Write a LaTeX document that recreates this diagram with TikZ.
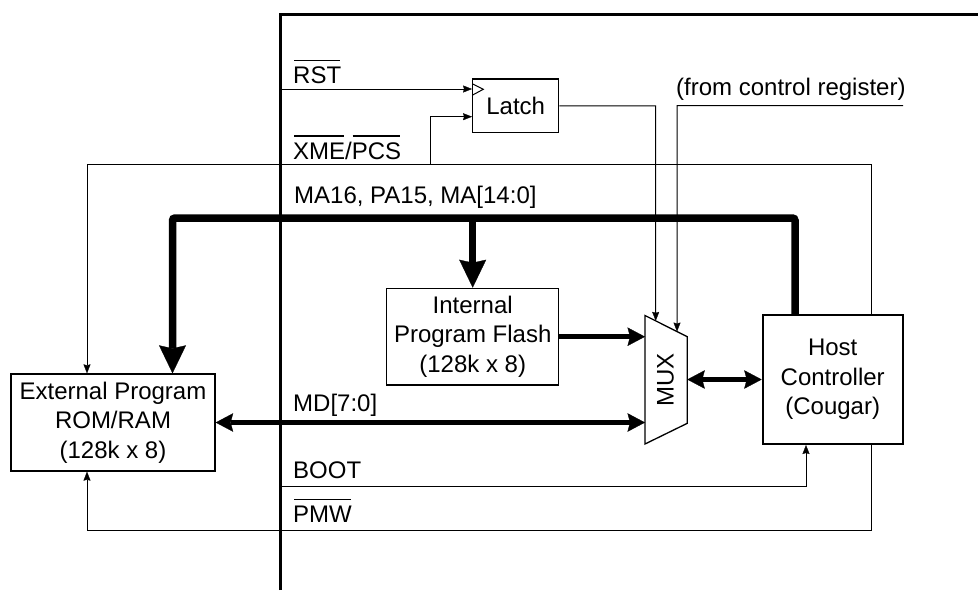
\documentclass[tikz,border=0pt]{standalone}
\usepackage{fontspec}
\setmainfont{Liberation Sans}
\usetikzlibrary{arrows.meta,calc}

% signal name with a bar over it (active-low)
\newcommand\barred[1]{\setbox0\hbox{#1}\rlap{\hskip0.8pt\rule[22.5pt]{\dimexpr\wd0-1.6pt\relax}{1.3pt}}\box0}

\tikzset{
  tipS/.tip={Stealth[length=9pt,width=7pt,inset=1pt,line width=0.3pt]},
  tipM/.tip={Stealth[length=17.5pt,width=18.5pt,inset=2.5pt,line width=0.3pt]},
  tipL/.tip={Stealth[length=28pt,width=27pt,inset=3pt,line width=0.3pt]},
}

\begin{document}
\begin{tikzpicture}[x=1pt,y=-1pt,
  font=\fontsize{24}{29.5}\selectfont,
  wire/.style={line width=1pt},
  box/.style={draw, line width=1.3pt, fill=white, align=center, inner sep=0pt},
  bus/.style={line width=7.5pt},
  data/.style={line width=5.3pt},
  sig/.style={anchor=base west, inner sep=0pt},
]
\useasboundingbox (0,0) rectangle (978,590);

% chip boundary
\draw[line width=3pt] (280,590) -- (280,14.7) -- (978,14.7);

% blocks
\node[box, minimum width=204pt, minimum height=97pt] (ext) at (113,422.5)
  {External Program\\ROM/RAM\\(128k x 8)};
\node[box, minimum width=172pt, minimum height=96.7pt] (flash) at (472.7,336.7)
  {Internal\\Program Flash\\(128k x 8)};
\node[box, line width=2pt, minimum width=140pt, minimum height=129pt] (host) at (832.7,379.5)
  {Host\\Controller\\(Cougar)};
\node[box, minimum width=86pt, minimum height=53.7pt] (latch) at (515.7,105.8) {Latch};

% multiplexer
\coordinate (mtl) at (645,315.5);
\coordinate (mtr) at (687.3,336.7);
\coordinate (mbr) at (687.3,423.3);
\coordinate (mbl) at (645,444);
\draw[line width=1.3pt, fill=white] (mtl) -- (mtr) -- (mbr) -- (mbl) -- cycle;
\node[rotate=90] (mux) at (665.5,380) {MUX};

% latch inputs
\coordinate (rstsrc) at (280,89);
\coordinate (xmeT) at (430,164);
\draw[wire,-tipS] (rstsrc) -- ($(latch.west)+(0,-16.8)$);
\draw[wire,-tipS] (xmeT) |- ($(latch.west)+(0,10.9)$);
\draw[wire, line join=miter] (472.7,84) -- (483.3,89.3) -- (472.7,95);

% XME/PCS strobe to external memory
\coordinate (xmeR) at (871,164);
\coordinate (xmeL) at (87,164);
\draw[wire,-tipS] (host.north -| xmeR) -- (xmeR) -- (xmeL) -- (ext.north -| xmeL);

% PMW write strobe
\coordinate (pmwR) at (871,530);
\coordinate (pmwL) at (87,530);
\draw[wire,-tipS] (host.south -| pmwR) -- (pmwR) -- (pmwL) -- (ext.south -| pmwL);

% BOOT
\coordinate (bootsrc) at (280,486.7);
\coordinate (bootR) at (806,486.7);
\draw[wire,-tipS] (bootsrc) -- (bootR) -- (host.south -| bootR);

% mux select lines
\coordinate (latchR) at (655.7,105.8);
\draw[wire,-tipS] (latch.east) -- (latchR) -- ($(mtl)!0.253!(mtr)$);
\coordinate (crR) at (903,105.7);
\coordinate (crL) at (677,105.7);
\draw[wire,-tipS] (crR) -- (crL) -- ($(mtl)!0.757!(mtr)$);

% address bus
\coordinate (busR) at (795,218);
\coordinate (busL) at (172.5,218);
\draw[bus, rounded corners=2.5pt, -tipL] (host.north -| busR) -- (busR) -- (busL) -- (ext.north -| busL);
\draw[bus, -tipL] (flash.north |- busL) -- (flash.north);

% data paths
\draw[data, -tipM] (flash.east) -- (flash.east -| mtl);
\draw[data, tipM-tipM] (ext.east) -- (ext.east -| mbl);
\coordinate (muxout) at (687.3,379.5);
\draw[data, tipM-tipM] (muxout) -- (host.west);

% signal labels
\node[sig] (rstlbl) at (293,83.3) {\barred{RST}};
\node[sig] (xmelbl) at (293,159) {\barred{XME}/\barred{PCS}};
\node[sig] (malbl) at (294,203.3) {MA16, PA15, MA[14:0]};
\node[sig] (mdlbl) at (293,411.7) {MD[7:0]};
\node[sig] (bootlbl) at (293,478.3) {BOOT};
\node[sig] (pmwlbl) at (293,522.7) {\barred{PMW}};
\node[sig] (crlbl) at (676,95) {(from control register)};
\end{tikzpicture}
\end{document}
